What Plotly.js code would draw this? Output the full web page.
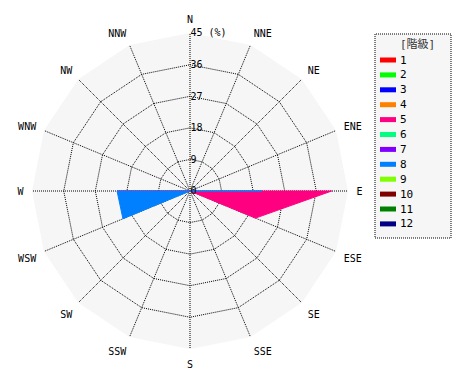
<!DOCTYPE html>
<html>
<head>
<meta charset="utf-8">
<script src="https://cdn.plot.ly/plotly-3.0.1.min.js"></script>
<style>html,body{margin:0;padding:0;background:#fff;}#chart{width:470px;height:380px;}</style>
</head>
<body>
<div id="chart"></div>
<script>
// 16 wind directions (clockwise from North)
const directions = ['N','NNE','NE','ENE','E','ESE','SE','SSE','S','SSW','SW','WSW','W','WNW','NW','NNW'];
// Class labels and colours
const legendTitle = '[階級]';
const classNames = ['1','2','3','4','5','6','7','8','9','10','11','12'];
const classColors = ['#ff0000','#00ff00','#0000ff','#ff8000','#ff0080','#00ff80','#8000ff','#0080ff','#80ff00','#800000','#008000','#000080'];
// Frequencies (%) per direction, only classes with data
const class5 = [0,0,0,0,40.4,20.2,0,0,0,0,0,0,20.8,0,0,0];
const class8 = [0,0,0,0,20.5,0,0,0,0,0,0,20.7,20.8,0,0,0];
const classData = {'5': class5, '8': class8};
// Radial ticks
const radialTicks = [0, 9, 18, 27, 36, 45];
const radialTickText = ['0', '9', '18', '27', '36', '45 (%)'];

const W = 470, H = 380;
const fontFam = 'DejaVu Sans Mono, Noto Sans CJK JP, monospace';
const traces = classNames.map((name, i) => {
  const vals = classData[name];
  return {
    type: 'scatterpolar',
    name: name,
    r: vals ? vals : [0],
    theta: vals ? directions : [directions[0]],
    mode: 'lines',
    fill: 'toself',
    fillcolor: classColors[i],
    line: {color: classColors[i], width: 1},
    hoverinfo: 'skip',
    showlegend: false
  };
});

// Hand-drawn legend box (pixel geometry converted to paper coords)
const px = x => x / W, py = y => 1 - y / H;
const legBox = {x0: 375, x1: 451, y0: 34, y1: 238};
const itemTop = 60, itemStep = 14.9;
const shapes = [{
  type: 'rect', xref: 'paper', yref: 'paper',
  x0: px(legBox.x0), x1: px(legBox.x1), y0: py(legBox.y1), y1: py(legBox.y0),
  fillcolor: '#f6f6f6', line: {color: '#000', width: 1, dash: '1px,1px'}, layer: 'below'
}];
const annotations = [{
  xref: 'paper', yref: 'paper', x: px(417), y: py(44), xanchor: 'center', yanchor: 'middle',
  text: legendTitle, showarrow: false, font: {family: fontFam, size: 11, color: '#333'}
}];
classNames.forEach((name, i) => {
  const yc = itemTop + i * itemStep;
  shapes.push({
    type: 'rect', xref: 'paper', yref: 'paper',
    x0: px(380), x1: px(396), y0: py(yc + 2.5), y1: py(yc - 2.5),
    fillcolor: classColors[i], line: {width: 0}
  });
  annotations.push({
    xref: 'paper', yref: 'paper', x: px(398), y: py(yc), xanchor: 'left', yanchor: 'middle',
    text: name, showarrow: false, font: {family: fontFam, size: 11, color: '#000'}
  });
});

const layout = {
  width: W, height: H,
  margin: {l: 0, r: 0, t: 0, b: 0},
  paper_bgcolor: '#ffffff',
  font: {family: fontFam, size: 10, color: '#000'},
  showlegend: false,
  shapes: shapes,
  annotations: annotations,
  polar: {
    domain: {x: [32/W, 348/W], y: [1 - 349/H, 1 - 33/H]},
    bgcolor: '#f6f6f6',
    gridshape: 'linear',
    angularaxis: {
      type: 'category',
      categoryarray: directions,
      rotation: 90, direction: 'clockwise',
      showline: true, linecolor: '#000', linewidth: 0,
      showgrid: true, gridcolor: '#000', griddash: '1px,1px', gridwidth: 1,
      ticks: 'outside', ticklen: 6, tickcolor: 'rgba(0,0,0,0)',
      tickfont: {family: fontFam, size: 10, color: '#000'}
    },
    radialaxis: {
      range: [0, 45.05],
      angle: 90,
      tickangle: 90,
      side: 'clockwise',
      tickvals: radialTicks,
      ticktext: radialTickText,
      tickprefix: '\u00a0',
      showline: false,
      ticks: '',
      showgrid: true, gridcolor: '#000', griddash: '1px,1px', gridwidth: 1,
      tickfont: {family: fontFam, size: 10, color: '#000'}
    }
  }
};

Plotly.newPlot('chart', traces, layout, {displayModeBar: false, staticPlot: true});
</script>
</body>
</html>
